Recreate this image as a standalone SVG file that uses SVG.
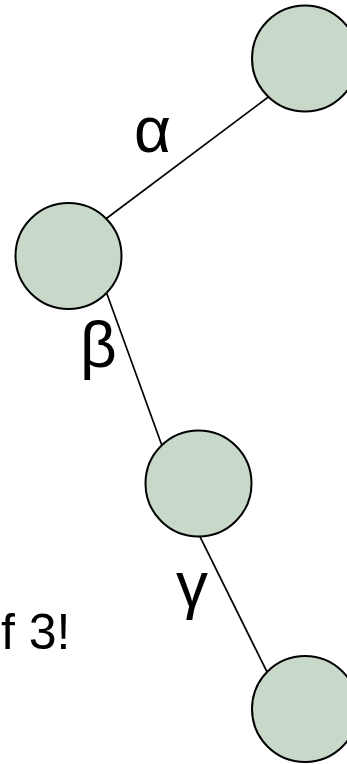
<svg xmlns="http://www.w3.org/2000/svg" width="347" height="764" viewBox="0 0 347 764">
  <style>
    .edge { stroke: #000; stroke-width: 1.7; fill: none; }
    .node { fill: #c8d9c9; stroke: #000; stroke-width: 2; }
    .lbl { font-family: "Liberation Sans", Arial, sans-serif; font-size: 64px; fill: #000; }
    .note { font-family: "Liberation Sans", Arial, sans-serif; font-size: 50px; fill: #000; }
  </style>
  <rect width="347" height="764" fill="#fff"/>
  <!-- edges are drawn first so the circles cover their ends -->
  <g id="connectors">
    <line class="edge" x1="100" y1="223.3" x2="272" y2="94.3"/>
    <line class="edge" x1="103" y1="283" x2="165" y2="454"/>
    <line class="edge" x1="196" y1="528.6" x2="270" y2="678"/>
  </g>
  <g id="node-a"><circle class="node" cx="305" cy="58.5" r="53"/></g>
  <g id="node-b"><circle class="node" cx="68.5" cy="256" r="53"/></g>
  <g id="node-c"><circle class="node" cx="198.5" cy="483.5" r="53"/></g>
  <g id="node-d"><circle class="node" cx="305" cy="709" r="53"/></g>
  <g id="labels">
    <text class="lbl" x="134" y="152">α</text>
    <text class="lbl" x="80" y="367">β</text>
    <text class="lbl" x="176" y="607">γ</text>
    <text class="note" x="1" y="649">f 3!</text>
  </g>
</svg>
